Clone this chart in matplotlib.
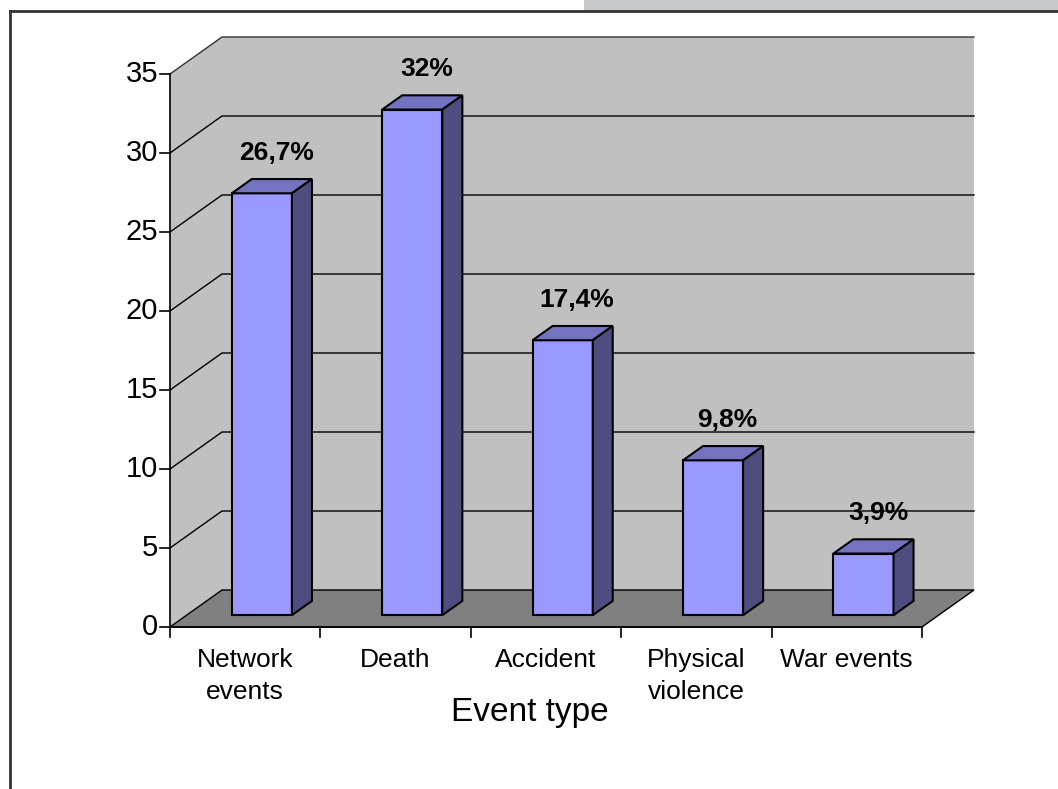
import matplotlib
matplotlib.use('Agg')
import matplotlib.pyplot as plt
from matplotlib.patches import Polygon, Rectangle
from matplotlib.lines import Line2D

categories = ['Network\nevents', 'Death', 'Accident', 'Physical\nviolence', 'War events']
values = [26.7, 32, 17.4, 9.8, 3.9]
value_labels = ['26,7%', '32%', '17,4%', '9,8%', '3,9%']
yticks = [0, 5, 10, 15, 20, 25, 30, 35]
xlabel = 'Event type'

plt.rcParams['font.family'] = ['Liberation Sans', 'DejaVu Sans']
W, H = 1058, 789
fig = plt.figure(figsize=(W / 100, H / 100), dpi=100)

# layout (pixels)
x0p, x1p = 170, 922          # front axis left/right
y0p, y1p = 627, 74           # y=0 and y=35 on front plane
ddx_p, ddy_p = 52, 37        # depth offset
ymax = yticks[-1]
n = len(values)
ux = (x1p - x0p) / n
uy = (y0p - y1p) / ymax
DX = ddx_p / ux
DY = ddy_p / uy

ax = fig.add_axes([x0p / W, (H - y0p) / H, (x1p + ddx_p - x0p) / W, (y0p - (y1p - ddy_p)) / H])
ax.set_xlim(0, n + DX)
ax.set_ylim(0, ymax + DY)
ax.axis('off')

wall = '#C0C0C0'
# side wall and back wall
ax.add_patch(Polygon([(0, 0), (DX, DY), (DX, ymax + DY), (0, ymax)], closed=True,
                     fc=wall, ec='none', clip_on=False, zorder=1))
ax.add_patch(Polygon([(DX, DY), (n + DX, DY), (n + DX, ymax + DY), (DX, ymax + DY)], closed=True,
                     fc=wall, ec='none', clip_on=False, zorder=1))
# floor
ax.add_patch(Polygon([(0, 0), (n, 0), (n + DX, DY), (DX, DY)], closed=True,
                     fc='#808080', ec='black', lw=1.0, clip_on=False, zorder=2))
# gridlines
for t in yticks[1:]:
    c = '#333333' if t == ymax else 'black'
    ax.add_line(Line2D([0, DX, n + DX], [t, t + DY, t + DY], color=c, lw=1.0,
                       clip_on=False, zorder=2))
# y axis
ax.add_line(Line2D([0, 0], [0, ymax], color='black', lw=1.2, clip_on=False, zorder=3))
for t in yticks:
    ax.add_line(Line2D([-10 / ux, 0], [t, t], color='black', lw=1.2, clip_on=False, zorder=3))
    ax.text(-12 / ux, t, str(t), ha='right', va='center', fontsize=21, clip_on=False)
# x axis ticks
ax.add_line(Line2D([0, n], [0, 0], color='black', lw=1.2, clip_on=False, zorder=3))
for i in range(n + 1):
    ax.add_line(Line2D([i, i], [0, -10 / uy], color='black', lw=1.2, clip_on=False, zorder=3))
for i, c in enumerate(categories):
    ax.text(i + 0.5, -21 / uy, c, ha='center', va='top', fontsize=19, linespacing=1.4,
            clip_on=False)

# bars
w = 0.4
d0, d1 = 0.32, 0.705
for i, v in enumerate(values):
    xl = i + 0.5 - w / 2 + d0 * DX
    xr = xl + w
    yb = d0 * DY
    yt = v + d0 * DY
    ddx = (d1 - d0) * DX
    ddy = (d1 - d0) * DY
    ax.add_patch(Polygon([(xl, yb), (xr, yb), (xr, yt), (xl, yt)], closed=True,
                         fc='#9999FF', ec='black', lw=1.5, joinstyle='miter', zorder=4, clip_on=False))
    ax.add_patch(Polygon([(xl, yt), (xr, yt), (xr + ddx, yt + ddy), (xl + ddx, yt + ddy)], closed=True,
                         fc='#7373BF', ec='black', lw=1.5, joinstyle='miter', zorder=4, clip_on=False))
    ax.add_patch(Polygon([(xr, yb), (xr + ddx, yb + ddy), (xr + ddx, yt + ddy), (xr, yt)], closed=True,
                         fc='#4D4D80', ec='black', lw=1.5, joinstyle='miter', zorder=4, clip_on=False))
    ax.text(i + 0.5 + 0.6 * DX, v + 0.6 * DY + 1.9, value_labels[i], ha='center', va='center',
            fontsize=19, fontweight='bold', clip_on=False, zorder=5)

fig.text(530 / W, 1 - 712 / H, xlabel, ha='center', va='center', fontsize=24)

# chart-area frame and top-right strip
fig.patches.append(Rectangle((584 / W, (H - 11) / H), (W - 584) / W, 11 / H,
                             transform=fig.transFigure, fc='#C6C7C9', ec='none'))
fig.lines.append(Line2D([10 / W, 10 / W], [0, (H - 11) / H], transform=fig.transFigure,
                        color='#333333', lw=2))
fig.lines.append(Line2D([10 / W, 1], [(H - 11) / H, (H - 11) / H], transform=fig.transFigure,
                        color='#333333', lw=2))

fig.savefig('out.png', dpi=100)
